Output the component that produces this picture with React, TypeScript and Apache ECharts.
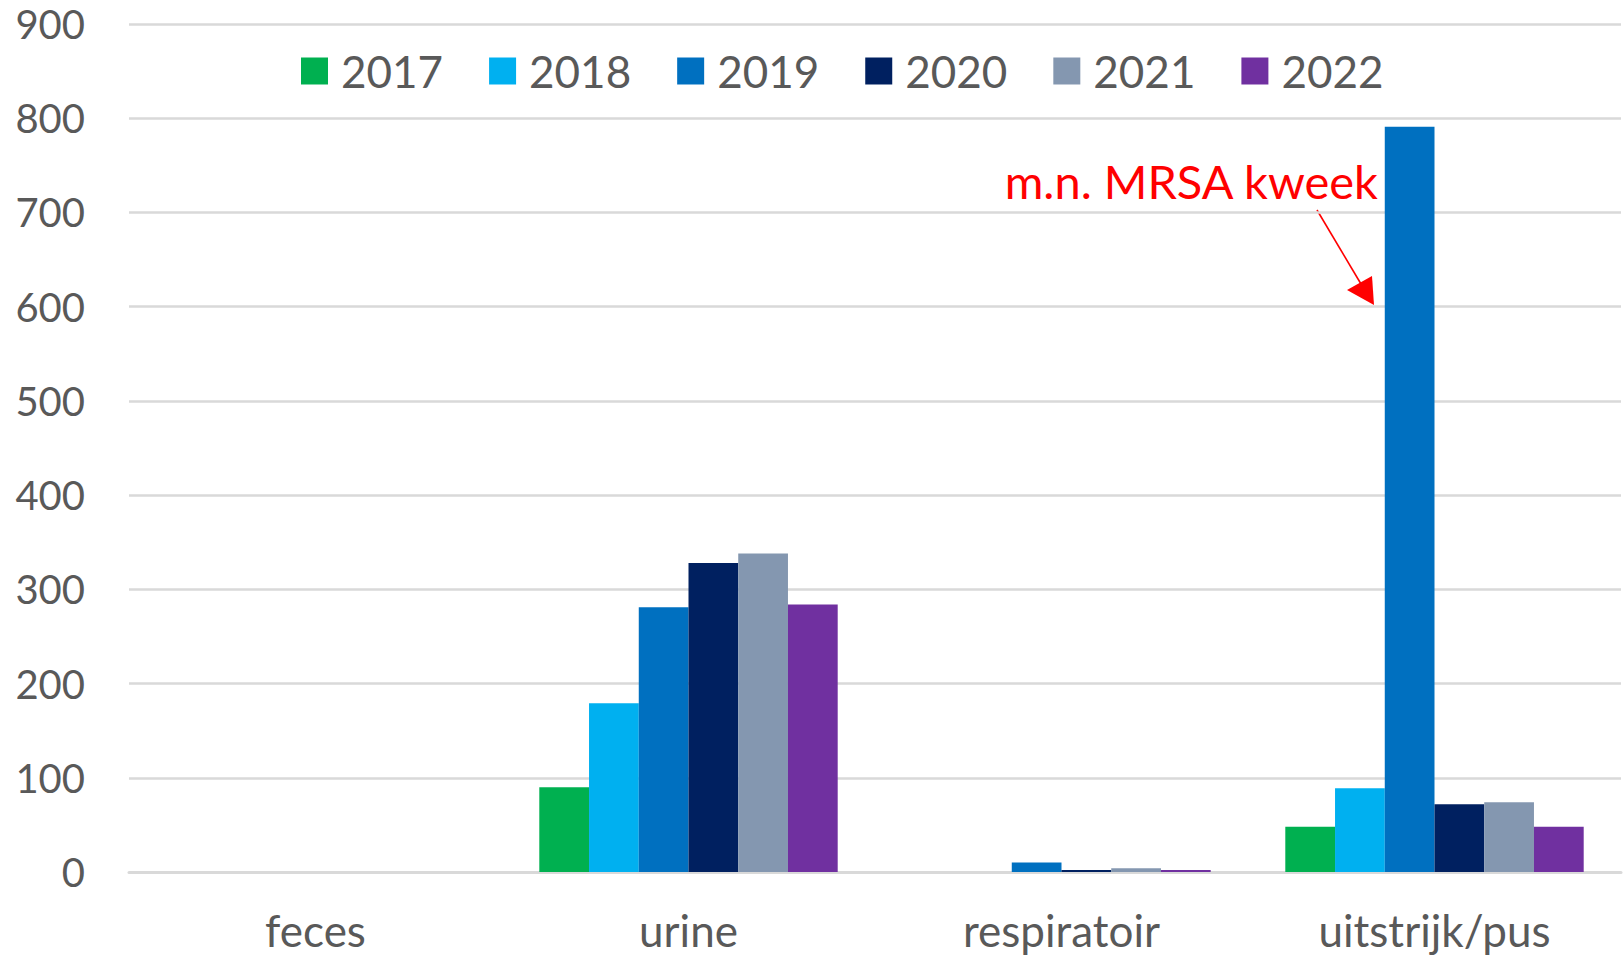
import React, { useEffect, useRef } from "react";
import * as echarts from "echarts";

const categories = ["feces", "urine", "respiratoir", "uitstrijk/pus"];
const years = ["2017", "2018", "2019", "2020", "2021", "2022"];
const values2017 = [0, 90, 0, 48];
const values2018 = [0, 179, 0, 89];
const values2019 = [0, 281, 10, 791];
const values2020 = [0, 328, 2, 72];
const values2021 = [0, 338, 4, 74];
const values2022 = [0, 284, 2, 48];
const yTicks = [0, 100, 200, 300, 400, 500, 600, 700, 800, 900];
const colors = ["#00B050", "#00B0F0", "#0070C0", "#002060", "#8497B0", "#7030A0"];
const annotation = "m.n. MRSA kweek";

const FONT = "Lato";

export default function App() {
  const ref = useRef<HTMLDivElement>(null);
  useEffect(() => {
    if (!ref.current) return;
    const chart = echarts.init(ref.current, null, { renderer: "svg" });
    const allValues = [values2017, values2018, values2019, values2020, values2021, values2022];
    chart.setOption({
      animation: false,
      backgroundColor: "#ffffff",
      textStyle: { fontFamily: FONT },
      legend: {
        data: years,
        left: 296,
        top: 43,
        itemWidth: 27,
        itemHeight: 27,
        itemGap: 46,
        icon: "rect",
        textStyle: { fontSize: 44, lineHeight: 46, color: "#595959", fontFamily: FONT, padding: [0, 0, 0, 8] },
      },
      grid: { left: 129, right: 3, top: 24, bottom: 85, containLabel: false },
      xAxis: {
        type: "category",
        data: categories,
        axisLine: { show: true, lineStyle: { color: "#d9d9d9", width: 3 } },
        axisTick: { show: false },
        axisLabel: { fontSize: 44, lineHeight: 44, color: "#595959", margin: 36, fontFamily: FONT },
      },
      yAxis: {
        type: "value",
        min: yTicks[0],
        max: yTicks[yTicks.length - 1],
        interval: 100,
        axisLine: { show: false },
        axisTick: { show: false },
        axisLabel: { fontSize: 40, lineHeight: 40, color: "#595959", margin: 44, fontFamily: FONT },
        splitLine: { show: true, lineStyle: { color: "#d9d9d9", width: 2.5 } },
      },
      series: years.map((y, i) => ({
        name: y,
        type: "bar",
        data: allValues[i],
        barGap: 0,
        barCategoryGap: "20%",
        itemStyle: { color: colors[i] },
      })),
      graphic: [
        {
          type: "text",
          x: 1378,
          y: 181,
          style: {
            text: annotation,
            fill: "#FF0000",
            fontSize: 47,
            fontFamily: FONT,
            align: "right",
            verticalAlign: "middle",
          },
        },
        {
          type: "line",
          shape: { x1: 1317, y1: 210, x2: 1361, y2: 284 },
          style: { stroke: "#FF0000", lineWidth: 1.6 },
        },
        {
          type: "polygon",
          shape: { points: [[1374, 305], [1347, 290], [1372, 276]] },
          style: { fill: "#FF0000" },
        },
      ],
    });
    return () => chart.dispose();
  }, []);
  return (
    <div
      ref={ref}
      style={{ position: "fixed", left: 0, top: 0, width: 1624, height: 957 }}
    />
  );
}
